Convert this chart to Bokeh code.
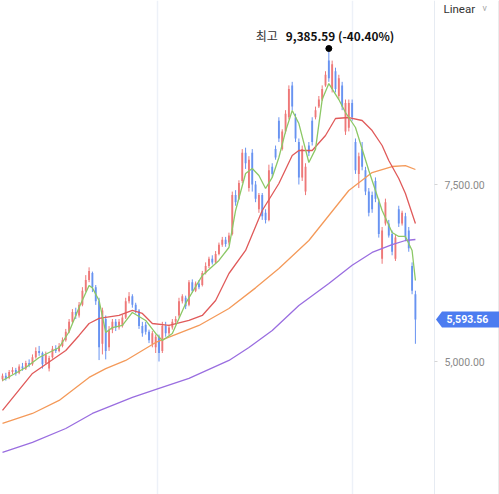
import numpy as np
from bokeh.plotting import figure
from bokeh.models import (Range1d, FixedTicker, NumeralTickFormatter, Grid, Label,
                          PolyAnnotation, ColumnDataSource, LinearAxis, Span)
from bokeh.core.properties import value
from bokeh.embed import file_html
from bokeh.resources import INLINE

# ---------------- data ----------------
opens = [4750, 4800, 4770, 4850, 4880, 4840, 4930, 4900, 4980, 4960,
         5060, 5150, 5120, 4980, 4900, 5060, 5180, 5150, 5220, 5300,
         5420, 5560, 5700, 5650, 5800, 6000, 6150, 6250, 6050, 5850,
         5250, 5600, 5200, 5450, 5560, 5480, 5500, 5620, 5850, 5920,
         5800, 5720, 5500, 5520, 5420, 5250, 5200, 5350, 5150, 5500,
         5400, 5480, 5560, 5650, 5850, 5900, 5800, 6120, 6000, 6100,
         6080, 6250, 6350, 6450, 6400, 6520, 6650, 6720, 6680, 6800,
         7350, 7300, 7550, 7950, 7450, 7950, 7500, 7150, 7350, 7100,
         7000, 7750, 8000, 8400, 8000, 8250, 8450, 8900, 8450, 8100,
         7600, 7400, 8050, 8400, 8450, 8600, 8700, 8900, 9250, 8850,
         9100, 8750, 8900, 8250, 8300, 8650, 8100, 7650, 8000, 7700,
         7400, 7350, 7550, 7250, 6450, 6950, 6950, 6800, 6450, 7150,
         6950, 7050, 6850, 6350, 5950]
closes = [4800, 4760, 4850, 4880, 4830, 4930, 4900, 4980, 4950, 5060,
          5150, 5120, 4960, 5100, 5050, 5180, 5150, 5220, 5300, 5420,
          5560, 5700, 5650, 5800, 6000, 6150, 6280, 6050, 5850, 5200,
          5720, 5150, 5450, 5560, 5480, 5560, 5620, 5850, 5920, 5800,
          5720, 5500, 5400, 5420, 5300, 5400, 5350, 5120, 5500, 5400,
          5480, 5560, 5600, 5850, 5920, 5780, 6120, 6000, 6100, 6050,
          6250, 6350, 6450, 6400, 6520, 6650, 6720, 6660, 6780, 7350,
          7250, 7520, 7950, 7800, 7850, 7500, 7300, 7350, 7050, 7000,
          7700, 7650, 7880, 8150, 8250, 8500, 8850, 8600, 8150, 7600,
          8000, 7750, 7950, 8100, 8550, 8700, 8850, 9050, 9000, 9200,
          8850, 9000, 8600, 8650, 8650, 8450, 7700, 7900, 7750, 7400,
          7100, 7150, 7300, 6800, 6850, 7250, 6780, 6550, 6750, 6950,
          7100, 6750, 6600, 6000, 5593.56]
highs = [4830, 4840, 4880, 4920, 4910, 4960, 4980, 5010, 5030, 5100,
         5200, 5220, 5140, 5140, 5080, 5220, 5230, 5260, 5340, 5460,
         5600, 5740, 5760, 5840, 6050, 6220, 6330, 6270, 6080, 5900,
         5760, 5650, 5500, 5600, 5600, 5600, 5660, 5900, 5980, 5950,
         5830, 5740, 5560, 5560, 5450, 5430, 5380, 5380, 5560, 5560,
         5520, 5600, 5640, 5900, 5950, 5930, 6150, 6160, 6130, 6150,
         6280, 6400, 6480, 6500, 6560, 6680, 6760, 6760, 6820, 7400,
         7420, 7560, 8000, 8020, 7900, 8000, 7550, 7380, 7380, 7150,
         7780, 7800, 8050, 8450, 8280, 8550, 8900, 8950, 8500, 8150,
         8050, 7800, 8100, 8450, 8600, 8750, 8900, 9100, 9385.59, 9250,
         9150, 9050, 8950, 8700, 8700, 8700, 8150, 7950, 8100, 7750,
         7450, 7400, 7600, 7300, 6900, 7300, 7000, 6850, 6800, 7200,
         7130, 7100, 6900, 6400, 6000]
lows = [4720, 4730, 4750, 4820, 4800, 4820, 4870, 4880, 4920, 4940,
        5040, 5080, 4900, 4960, 4860, 5040, 5120, 5130, 5200, 5280,
        5400, 5540, 5600, 5620, 5780, 5980, 6120, 5980, 5800, 5020,
        5100, 5030, 5150, 5400, 5430, 5450, 5480, 5600, 5820, 5760,
        5680, 5460, 5350, 5380, 5260, 5200, 5120, 5000, 5120, 5350,
        5370, 5450, 5520, 5620, 5820, 5740, 5780, 5970, 5980, 6020,
        6060, 6230, 6320, 6370, 6380, 6500, 6620, 6620, 6650, 6780,
        7200, 7280, 7520, 7720, 7400, 7400, 7250, 7100, 7000, 6950,
        6980, 7600, 7850, 8100, 7980, 8220, 8420, 8550, 8100, 7500,
        7550, 7350, 7900, 8050, 8420, 8580, 8680, 8880, 8950, 8800,
        8800, 8700, 8550, 8200, 8250, 8400, 7650, 7450, 7700, 7350,
        7050, 7100, 7250, 6750, 6380, 6920, 6750, 6500, 6420, 6900,
        6920, 6700, 6550, 5950, 5250]

ma5_idx = [0, 7, 11, 17, 20, 23, 26, 27, 29, 31, 33, 36, 39, 43, 46, 48, 51, 55, 60,
           65, 68, 70, 73, 75, 77, 79, 81, 83, 85, 87, 89, 92, 94, 96, 98, 101, 103,
           106, 110, 114, 117, 119, 121, 123, 124]
ma5 = [4732, 4916, 5057, 5198, 5420, 5763, 6074, 6040, 5862, 5410, 5480, 5509,
       5693, 5580, 5396, 5297, 5396, 5820, 6215, 6427, 6610, 7133, 7655, 7726,
       7627, 7444, 7600, 7881, 8250, 8545, 8361, 7811, 8000, 8700, 8926, 8700,
       8517, 8305, 7698, 7133, 6822, 6766, 6766, 6568, 6144]
ma20_idx = [0, 9, 19, 23, 26, 29, 35, 39, 42, 45, 50, 56, 60, 64, 68, 73, 78, 83,
            87, 89, 93, 97, 100, 104, 108, 111, 114, 116, 119, 121, 124]
ma20 = [4309, 4831, 5156, 5368, 5537, 5608, 5650, 5721, 5679, 5537, 5509, 5580,
        5650, 5862, 6243, 6568, 7133, 7514, 7909, 7980, 7980, 8192, 8432, 8446,
        8404, 8262, 8051, 7839, 7585, 7373, 6949]
ma60_idx = [0, 9, 17, 26, 31, 37, 46, 59, 68, 76, 83, 92, 98, 104, 111, 117, 121, 124]
ma60 = [4125, 4266, 4450, 4775, 4900, 5015, 5269, 5509, 5749, 6040, 6314, 6709,
        7062, 7415, 7669, 7754, 7768, 7712]
ma120_idx = [0, 9, 19, 27, 39, 47, 56, 68, 74, 81, 89, 98, 105, 111, 117, 121, 124]
ma120 = [3716, 3857, 4054, 4266, 4492, 4620, 4761, 5015, 5198, 5438, 5791,
         6102, 6360, 6540, 6650, 6709, 6723]

y_ticks = [5000, 7500]
grid_idx = [46.5, 105]

# ---------------- styles / layout ----------------
RED = "#ee7878"
BLUE = "#6893f1"
W, H = 499, 494
PX = 3.33                  # pixels per candle
AXIS_PX = 434              # pixel position of the price axis line
X0 = -2 / PX
X1 = X0 + W / PX
Y1 = 7500 + 184 / 0.0708
Y0 = 5000 - (H - 361) / 0.0708
ppu = H / (Y1 - Y0)
KFONT = "Noto Sans CJK KR"

p = figure(width=W, height=H, output_backend="svg", toolbar_location=None,
           x_range=Range1d(X0, X1), y_range=Range1d(Y0, Y1),
           x_axis_location=None, y_axis_location=None,
           min_border=0, min_border_left=0, min_border_top=0,
           min_border_bottom=0, min_border_right=0)
p.outline_line_color = None
p.background_fill_color = "white"
p.border_fill_color = "white"
p.xgrid.visible = False
p.ygrid.visible = False

ax = LinearAxis(fixed_location=X0 + AXIS_PX / PX)
ax.ticker = FixedTicker(ticks=y_ticks)
ax.formatter = NumeralTickFormatter(format="0,0.00")
ax.axis_line_color = "#e6ebf2"
ax.major_tick_line_color = "#d5d5d5"
ax.major_tick_out = 3
ax.major_tick_in = 0
ax.minor_tick_line_color = None
ax.major_label_text_color = "#8a8a8a"
ax.major_label_text_font = "Roboto"
ax.major_label_text_font_size = "10.5px"
ax.major_label_standoff = 7
p.add_layout(ax, "right")

p.add_layout(Grid(dimension=0, ticker=FixedTicker(ticks=grid_idx),
                  grid_line_color="#edf1f8", grid_line_width=1.5))
p.add_layout(Span(location=X0 + 498.5 / PX, dimension="height",
                  line_color="#d6d6d6", line_width=1))

idx = list(range(len(closes)))
colors = [RED if c >= o else BLUE for o, c in zip(opens, closes)]
src = ColumnDataSource(dict(
    x=idx, h=highs, l=lows,
    top=[max(o, c) for o, c in zip(opens, closes)],
    bot=[min(o, c) for o, c in zip(opens, closes)],
    color=colors))
p.segment(x0="x", y0="l", x1="x", y1="h", line_color="color", line_width=1, source=src)
p.vbar(x="x", top="top", bottom="bot", width=0.56, fill_color="color",
       line_color=None, source=src)

p.line(ma120_idx, ma120, line_color="#9a6ee0", line_width=1.3)
p.line(ma60_idx, ma60, line_color="#f49a5a", line_width=1.3)
p.line(ma20_idx, ma20, line_color="#e05a5a", line_width=1.3)
p.line(ma5_idx, ma5, line_color="#8cc866", line_width=1.3)

# peak annotation
pk = int(np.argmax(highs))
pkh = highs[pk]
pct = (closes[-1] / pkh - 1) * 100
p.scatter([pk], [pkh + 2.5 / ppu], size=6, color="black")
p.text(x=[pk], y=[pkh], text=["최고"], x_offset=-51, y_offset=-15.5,
       text_align="right", text_baseline="middle", text_color="#333333",
       text_font=value(KFONT), text_font_size="12px")
p.text(x=[pk], y=[pkh], text=[f"{pkh:,.2f} ({pct:.2f}%)"], x_offset=-43, y_offset=-15.5,
       text_align="left", text_baseline="middle", text_color="#111111",
       text_font=value(KFONT), text_font_size="11.8px", text_font_style="bold")

# current price tag
cl = closes[-1]
hh = 8 / ppu
p.add_layout(PolyAnnotation(xs=[435.5, 441.5, W + 5, W + 5, 441.5],
                            ys=[cl, cl + hh, cl + hh, cl - hh, cl - hh],
                            xs_units="screen", ys_units="data",
                            fill_color="#4c7cf0", fill_alpha=1, line_color=None))
p.add_layout(Label(x=446, y=cl, x_units="screen", y_units="data",
                   text=f"{cl:,.2f}", text_color="white", text_baseline="middle",
                   text_font="Roboto", text_font_size="10.5px", text_font_style="bold"))

p.add_layout(Label(x=443, y=H - 1, x_units="screen", y_units="screen",
                   text="Linear", text_color="#333333", text_baseline="top",
                   text_font="Roboto", text_font_size="11.5px"))
p.add_layout(Label(x=482, y=H - 2, x_units="screen", y_units="screen",
                   text="v", text_color="#a8a8a8", text_baseline="top",
                   text_font="Roboto", text_font_size="9px"))

open("out.html", "w").write(file_html(p, INLINE))
